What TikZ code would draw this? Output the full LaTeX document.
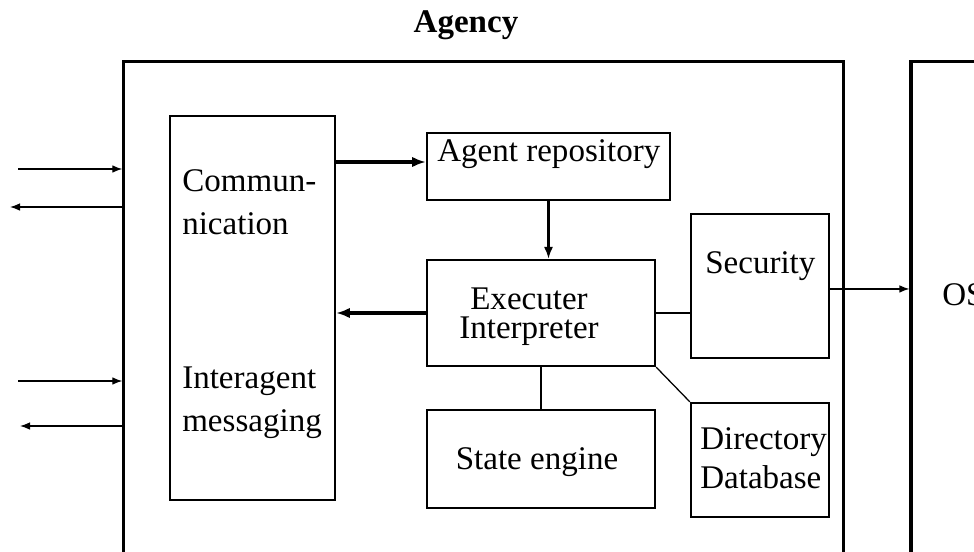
\documentclass[tikz,border=0pt]{standalone}
\usepackage{fontspec}
\setmainfont{Liberation Serif}
\usetikzlibrary{arrows.meta}

\tikzset{
  frame/.style={draw, line width=2.2pt, inner sep=0pt},
  block/.style={draw, line width=1.6pt, inner sep=0pt},
  lbl/.style={inner sep=0pt, font=\fontsize{23.5}{30}\selectfont},
  link/.style={line width=0.9pt},
  flow/.style={line width=2.4pt},
  tip/.style={-{Latex[length=2.5mm, width=1.9mm]}},
  bigtip/.style={-{Latex[length=3.4mm, width=2.6mm]}}
}

\begin{document}
\begin{tikzpicture}[x=0.025cm, y=-0.025cm]
  \useasboundingbox (0,0) rectangle (974,552);
  \clip (0,0) rectangle (974,552);

  % outer frames
  \node[frame, minimum width=17.975cm, minimum height=13.45cm] (agency) at (483.5,331) {};
  \node[frame, minimum width=3.225cm, minimum height=13.45cm] (os) at (975.5,331) {};
  \node[lbl, anchor=base, font=\bfseries\fontsize{23.5}{28}\selectfont] (title) at (466,32) {Agency};
  \node[lbl, anchor=base west] (ostext) at (942,305) {OS};

  % blocks
  \node[block, minimum width=4.125cm, minimum height=9.6cm] (comm) at (252.5,308) {};
  \node[block, minimum width=6.075cm, minimum height=1.675cm] (repo) at (548.5,166.5) {};
  \node[block, minimum width=5.7cm, minimum height=2.65cm] (exec) at (541,313) {};
  \node[block, minimum width=3.45cm, minimum height=3.6cm] (sec) at (760,286) {};
  \node[block, minimum width=5.7cm, minimum height=2.45cm] (state) at (541,459) {};
  \node[block, minimum width=3.45cm, minimum height=2.85cm] (dir) at (760,460) {};

  % texts (base = last line)
  \node[lbl, anchor=base west, align=left] (commtext) at (182,234) {Commun-\\nication};
  \node[lbl, anchor=base west, align=left] (msgtext) at (182,431) {Interagent\\messaging};
  \node[lbl, anchor=base west] (repotext) at (437,161) {Agent repository};
  \node[lbl, anchor=base, align=center, font=\fontsize{23.5}{20.5}\selectfont] (exectext) at (529,338) {Executer\\Interpreter};
  \node[lbl, anchor=base west] (sectext) at (705,273) {Security};
  \node[lbl, anchor=base] (statetext) at (537,469) {State engine};
  \node[lbl, anchor=base west, align=left, font=\fontsize{23.5}{27.5}\selectfont] (dirtext) at (700,488) {Directory\\Database};

  % free ends of the outside links
  \coordinate (in1) at (18,169);
  \coordinate (out1) at (10,207);
  \coordinate (in2) at (18,381);
  \coordinate (out2) at (20,426);

  % connectors
  \draw[link, tip] (in1) -- (agency.west |- in1);
  \draw[link, tip] (agency.west |- out1) -- (out1);
  \draw[link, tip] (in2) -- (agency.west |- in2);
  \draw[link, tip] (agency.west |- out2) -- (out2);
  \draw[flow, bigtip] ([yshift=3.2pt]repo.west -| comm.east) -- ([yshift=3.2pt]repo.west);
  \draw[link, line width=1.6pt, -{Latex[length=3mm, width=2.3mm]}] (repo.south) -- (repo.south |- exec.north);
  \draw[flow, bigtip] (exec.west) -- (comm.east |- exec.west);
  \draw[link] (exec.east) -- (sec.west |- exec.east);
  \draw[link] (exec.south) -- (state.north);
  \draw[link] (exec.south east) -- (dir.north west);
  \draw[link, tip] ([yshift=-2.1pt]sec.east) -- ([yshift=-2.1pt]sec.east -| os.west);
\end{tikzpicture}
\end{document}
